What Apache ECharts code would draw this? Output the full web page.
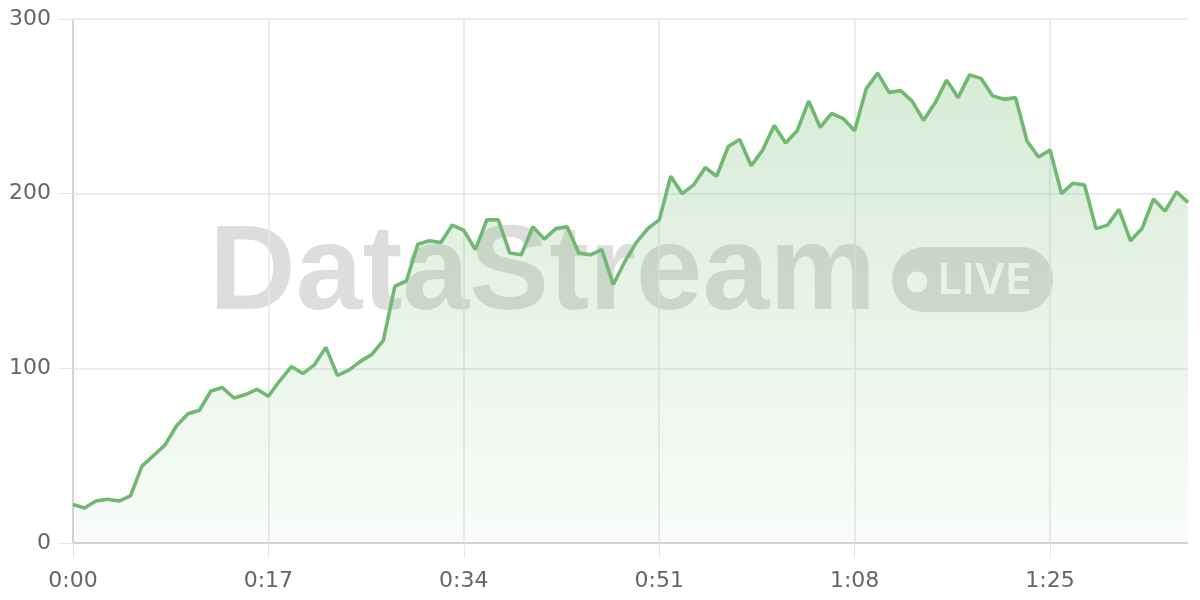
<!DOCTYPE html>
<html>
<head>
<meta charset="utf-8">
<style>
  html, body { margin: 0; padding: 0; background: #ffffff; }
  #chart { width: 1200px; height: 600px; }
</style>
<script src="https://cdn.jsdelivr.net/npm/echarts@6/dist/echarts.min.js"></script>
</head>
<body>
<div id="chart"></div>
<script>
// Values sampled once per second, starting at 0:00
const values = [
  22, 20, 24, 25, 24, 27, 44, 50, 56, 67,
  74, 76, 87, 89, 83, 85, 88, 84, 93, 101,
  97, 102, 112, 96, 99, 104, 108, 116, 147, 150,
  171, 173, 172, 182, 179, 168, 185, 185, 166, 165,
  181, 174, 180, 181, 166, 165, 168, 148, 161, 172,
  180, 185, 210, 200, 205, 215, 210, 227, 231, 216,
  225, 239, 229, 236, 253, 238, 246, 243, 236, 260,
  269, 258, 259, 253, 242, 252, 265, 255, 268, 266,
  256, 254, 255, 230, 221, 225, 200, 206, 205, 180,
  182, 191, 173, 180, 197, 190, 201, 195
];
const yTicks = [0, 100, 200, 300];
const watermarkTitle = 'DataStream';
const watermarkBadge = 'LIVE';

function fmtTime(sec) {
  const m = Math.floor(sec / 60);
  const s = sec % 60;
  return m + ':' + (s < 10 ? '0' + s : s);
}
const timeLabels = values.map((_, i) => fmtTime(i));

const chart = echarts.init(document.getElementById('chart'), null, { renderer: 'canvas' });
const labelFont = '"DejaVu Sans", sans-serif';
const option = {
  animation: false,
  backgroundColor: '#ffffff',
  grid: { left: 73, right: 12, top: 19, bottom: 57 },
  graphic: [
    {
      type: 'text', z: 0,
      style: {
        text: watermarkTitle, x: 209, y: 276,
        font: 'bold 120px "Liberation Sans", Arial, sans-serif',
        fill: 'rgba(0,0,0,0.135)', textAlign: 'left', textVerticalAlign: 'middle'
      }
    },
    {
      type: 'rect', z: 0,
      shape: { x: 892, y: 247, width: 161, height: 65, r: 32 },
      style: { fill: 'rgba(0,0,0,0.135)' }
    },
    {
      type: 'circle', z: 0,
      shape: { cx: 917, cy: 282, r: 10.5 },
      style: { fill: '#ffffff' }
    },
    {
      type: 'text', z: 0,
      style: {
        text: watermarkBadge, x: 938, y: 281,
        font: '600 43px Inter, "Liberation Sans", sans-serif',
        fill: '#ffffff', textAlign: 'left', textVerticalAlign: 'middle'
      }
    }
  ],
  xAxis: {
    type: 'category',
    data: timeLabels,
    boundaryGap: false,
    axisLine: { show: true, lineStyle: { color: '#cccccc', width: 1.5 } },
    axisTick: { show: true, interval: 16, length: 15, lineStyle: { color: '#e6e6e6' } },
    splitLine: { show: true, interval: 16, lineStyle: { color: '#e6e6e6', width: 1.5 } },
    axisLabel: { interval: 16, color: '#666666', fontSize: 22, fontFamily: labelFont, margin: 27 }
  },
  yAxis: {
    type: 'value',
    min: yTicks[0],
    max: yTicks[yTicks.length - 1],
    interval: 100,
    axisLine: { show: true, lineStyle: { color: '#cccccc', width: 1.5 } },
    axisTick: { show: true, length: 15, lineStyle: { color: '#e6e6e6' } },
    splitLine: { show: true, lineStyle: { color: '#e6e6e6', width: 1.5 } },
    axisLabel: { color: '#666666', fontSize: 22, fontFamily: labelFont, margin: 22 }
  },
  series: [{
    type: 'line',
    data: values,
    showSymbol: false,
    symbol: 'none',
    z: 3,
    lineStyle: { color: '#70b970', width: 3.6 },
    areaStyle: {
      color: new echarts.graphic.LinearGradient(0, 0, 0, 1, [
        { offset: 0, color: 'rgba(111,184,111,0.40)' },
        { offset: 1, color: 'rgba(111,184,111,0.06)' }
      ])
    }
  }]
};
chart.setOption(option);
</script>
</body>
</html>
